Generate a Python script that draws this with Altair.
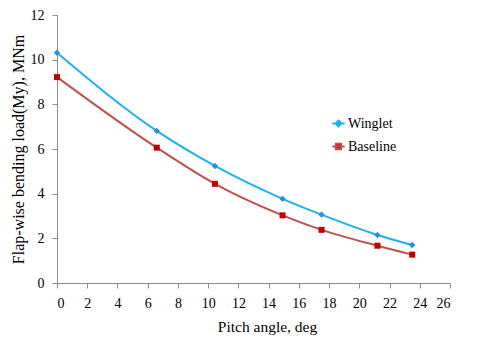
import altair as alt
import pandas as pd

pitch = [0, 6.6, 10.45, 14.92, 17.5, 21.2, 23.5]
winglet = [10.31, 6.81, 5.24, 3.77, 3.06, 2.15, 1.70]
baseline = [9.22, 6.06, 4.44, 3.03, 2.38, 1.67, 1.27]
series_names = ["Winglet", "Baseline"]
line_colors = ["#1EB0F0", "#C0504D"]
marker_colors = ["#2A8FD8", "#C00000"]
x_ticks = list(range(0, 27, 2))
y_ticks = list(range(0, 13, 2))

df = pd.DataFrame({
    "pitch": pitch + pitch,
    "load": winglet + baseline,
    "series": [series_names[0]] * len(pitch) + [series_names[1]] * len(pitch),
})

FONT = "Liberation Serif"

x = alt.X("pitch:Q", scale=alt.Scale(domain=[0, 26], nice=False),
          axis=alt.Axis(values=x_ticks, title="Pitch angle, deg", titlePadding=9,
                        labelPadding=8, titleX=210, labelFont=FONT))
y = alt.Y("load:Q", scale=alt.Scale(domain=[0, 12], nice=False),
          axis=alt.Axis(values=y_ticks, title="Flap-wise bending load(My), MNm",
                        titlePadding=4, labelPadding=8, titleFontSize=16, labelFont=FONT))

lines = alt.Chart(df).mark_line(interpolate="monotone", strokeWidth=2).encode(
    x=x, y=y,
    color=alt.Color("series:N", scale=alt.Scale(domain=series_names, range=line_colors), legend=None),
    detail="series:N",
)

points = alt.Chart(df).mark_point(filled=True, opacity=1).encode(
    x=x, y=y,
    fill=alt.Fill("series:N", scale=alt.Scale(domain=series_names, range=marker_colors), legend=None),
    shape=alt.Shape("series:N", scale=alt.Scale(domain=series_names, range=["diamond", "square"]), legend=None),
    size=alt.Size("series:N", scale=alt.Scale(domain=series_names, range=[40, 36]), legend=None),
)

legend_paths = [
    "M-1,0H1M0,-0.5L0.5,0L0,0.5L-0.5,0Z",
    "M-1,0H1M-0.45,-0.45H0.45V0.45H-0.45Z",
]


def make_legend():
    return alt.Legend(title=None, orient="none", legendX=274, legendY=101,
                      symbolSize=150, symbolStrokeWidth=1.8,
                      symbolOpacity=1, labelFontSize=14, labelFont=FONT,
                      labelColor="#000", rowPadding=8, labelOffset=2)


legend_layer = alt.Chart(df).mark_point(filled=True, opacity=0).encode(
    x=x, y=y,
    stroke=alt.Stroke("series:N", scale=alt.Scale(domain=series_names, range=line_colors),
                      legend=make_legend()),
    shape=alt.Shape("series:N", scale=alt.Scale(domain=series_names, range=legend_paths),
                    legend=make_legend()),
    fill=alt.Fill("series:N", scale=alt.Scale(domain=series_names, range=marker_colors),
                  legend=make_legend()),
)

chart = alt.layer(lines, points, legend_layer).resolve_scale(
    color="independent", fill="independent", shape="independent", size="independent", stroke="independent"
).properties(
    width=393, height=268,
    autosize=alt.AutoSizeParams(type="none"),
    padding={"left": 49, "top": 7, "right": 22, "bottom": 52},
    background="white",
).configure(font=FONT).configure_view(stroke=None).configure_axis(
    grid=False, domainColor="#8c8c8c", tickColor="#8c8c8c", tickSize=5,
    labelFont=FONT, labelFontSize=14, labelColor="#000",
    titleFont=FONT, titleFontSize=15.5, titleFontWeight="normal", titleColor="#000",
).configure_legend(labelFont=FONT)

chart.save("out.html", embed_options={"renderer": "svg", "actions": False})
